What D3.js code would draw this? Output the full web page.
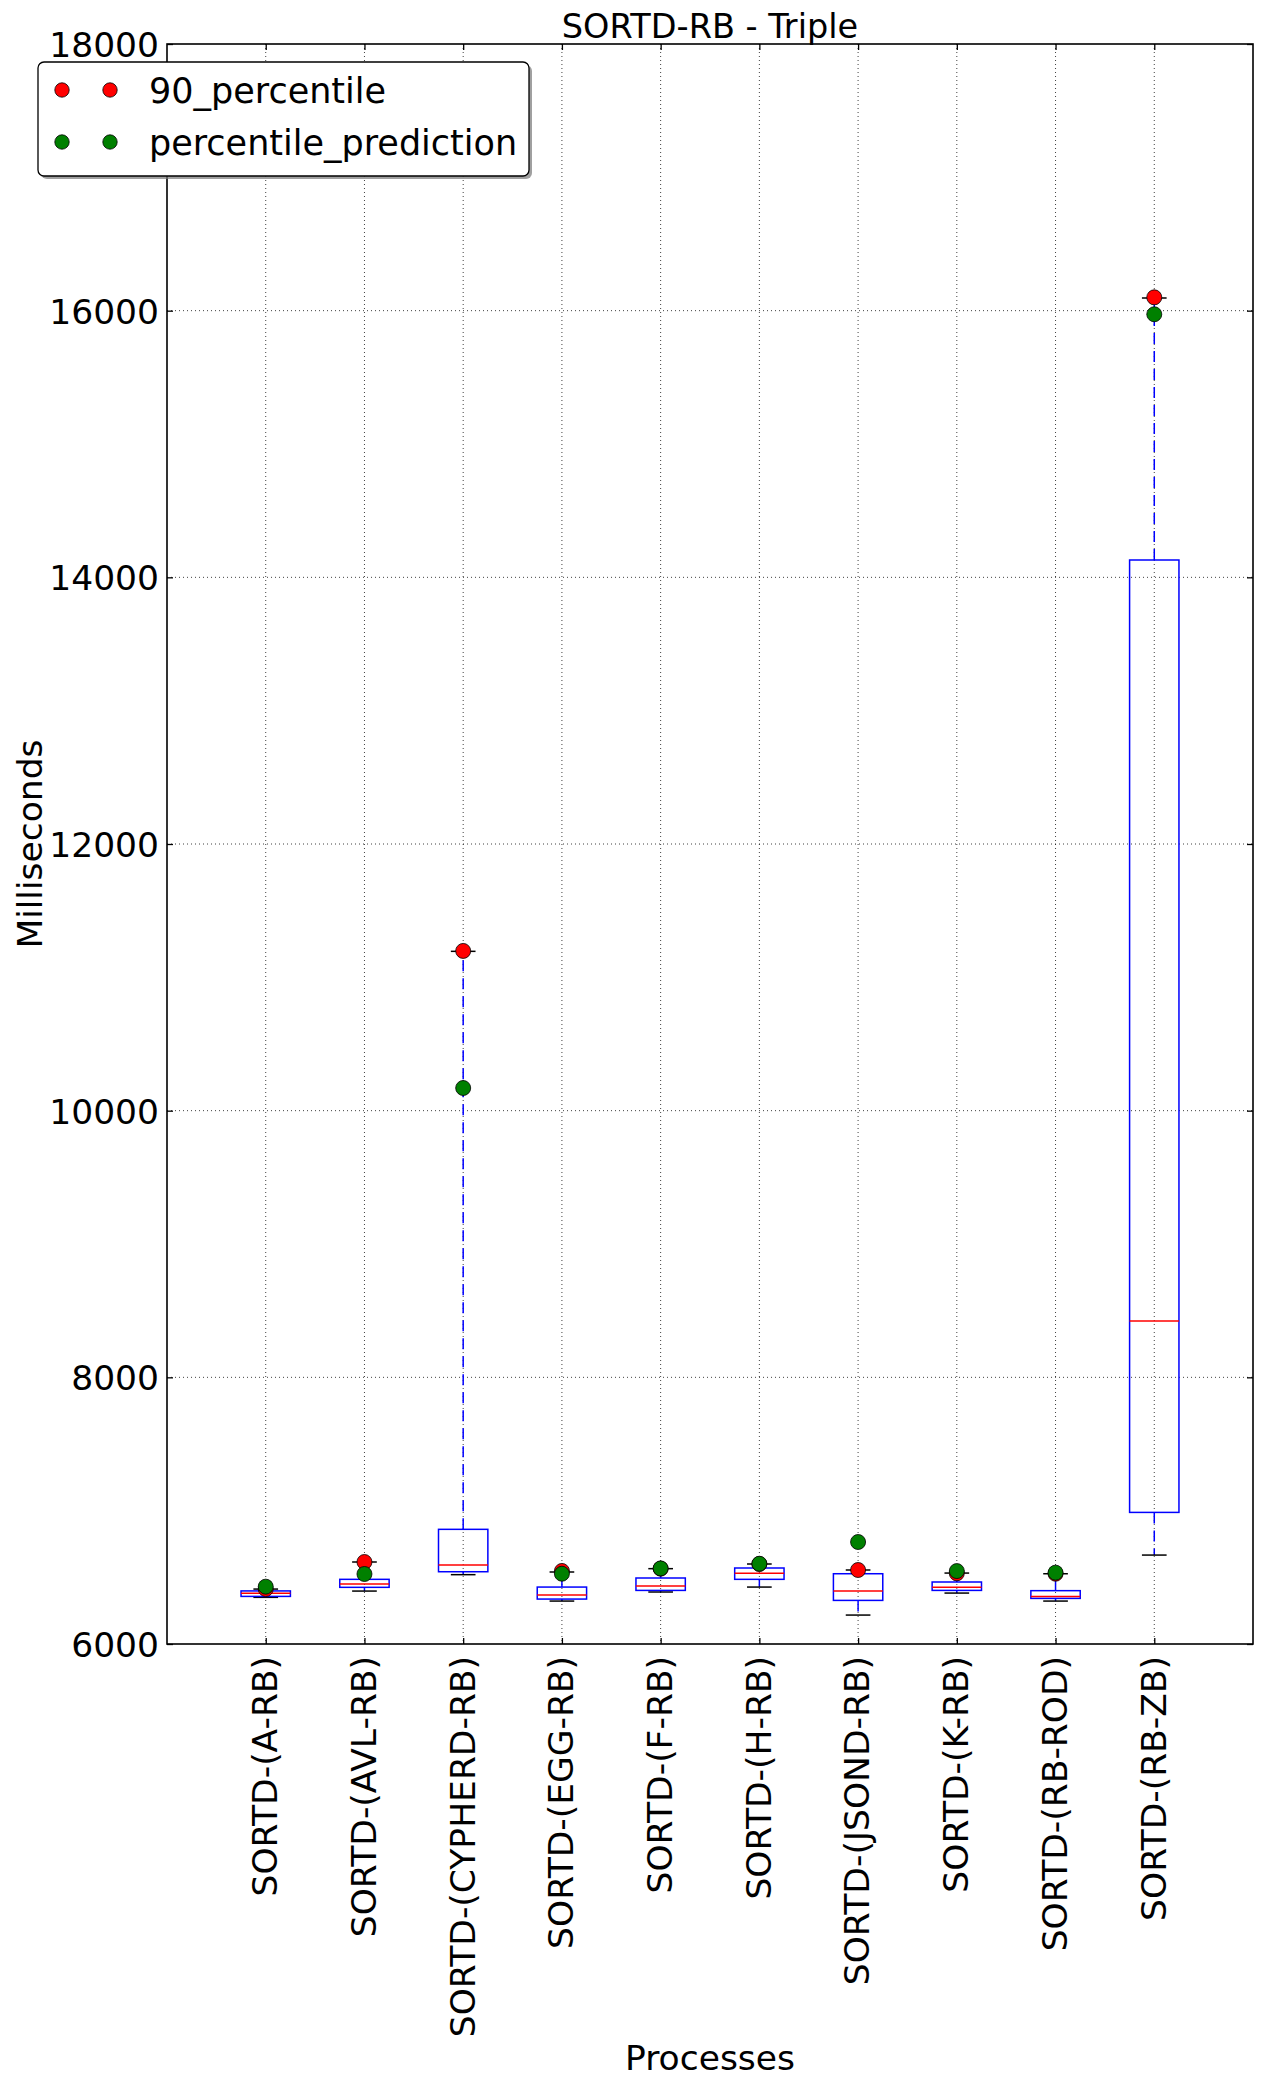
<!DOCTYPE html>
<html>
<head>
<meta charset="utf-8">
<script src="https://cdn.jsdelivr.net/npm/d3@7"></script>
<style>
  body { margin: 0; background: #fff; }
  text { font-family: "DejaVu Sans", sans-serif; fill: #000; }
</style>
</head>
<body>
<div id="chart"></div>
<script>
// data
const categories = ['SORTD-(A-RB)', 'SORTD-(AVL-RB)', 'SORTD-(CYPHERD-RB)', 'SORTD-(EGG-RB)',
  'SORTD-(F-RB)', 'SORTD-(H-RB)', 'SORTD-(JSOND-RB)', 'SORTD-(K-RB)', 'SORTD-(RB-ROD)', 'SORTD-(RB-ZB)'];
const whiskerLow  = [6350, 6397, 6520, 6322, 6390, 6427, 6217, 6382, 6322, 6667];
const q1          = [6357, 6425, 6542, 6337, 6402, 6485, 6327, 6402, 6342, 6987];
const medians     = [6380, 6450, 6592, 6367, 6435, 6530, 6397, 6425, 6357, 8422];
const q3          = [6398, 6485, 6860, 6427, 6495, 6570, 6527, 6465, 6400, 14130];
const whiskerHigh = [6412, 6615, 11195, 6540, 6565, 6600, 6555, 6532, 6527, 16095];
const p90         = [6412, 6615, 11198, 6548, 6565, 6600, 6555, 6530, 6527, 16100];
const prediction  = [6430, 6525, 10170, 6527, 6567, 6602, 6765, 6547, 6535, 15973];
const yTicks = [6000, 8000, 10000, 12000, 14000, 16000, 18000];
const legendLabels = ['90_percentile', 'percentile_prediction'];

// layout
const fullWidth = 1261, fullHeight = 2087;
const margin = { top: 44, right: 8, bottom: 443, left: 167 };
const width = fullWidth - margin.left - margin.right;
const height = fullHeight - margin.top - margin.bottom;
const FS = 34.5;

const svg = d3.select('#chart').append('svg')
  .attr('width', fullWidth)
  .attr('height', fullHeight);
svg.append('rect').attr('width', fullWidth).attr('height', fullHeight).attr('fill', '#fff');

const g = svg.append('g').attr('transform', `translate(${margin.left},${margin.top})`);

const rows = categories.map((c, i) => ({
  name: c, pos: i + 1, lo: whiskerLow[i], q1: q1[i], med: medians[i], q3: q3[i],
  hi: whiskerHigh[i], p90: p90[i], pred: prediction[i]
}));

const x = d3.scaleLinear().domain([0, categories.length + 1]).range([0, width]);
const y = d3.scaleLinear().domain([6000, 18000]).range([height, 0]);
const step = x(1) - x(0);
const boxW = step * 0.5;
const capW = boxW * 0.5;

// grid
const grid = g.append('g').attr('class', 'grid')
  .attr('stroke', '#000').attr('stroke-opacity', 0.75)
  .attr('stroke-width', 1).attr('stroke-dasharray', '1,3');
grid.selectAll('.gx').data(rows).enter().append('line')
  .attr('x1', d => x(d.pos)).attr('x2', d => x(d.pos))
  .attr('y1', 0).attr('y2', height);
grid.selectAll('.gy').data(yTicks.slice(1, -1)).enter().append('line')
  .attr('x1', 0).attr('x2', width)
  .attr('y1', d => y(d)).attr('y2', d => y(d));

// boxes
const boxes = g.selectAll('.box').data(rows).enter().append('g').attr('class', 'box');

// whiskers
boxes.append('line')
  .attr('x1', d => x(d.pos)).attr('x2', d => x(d.pos))
  .attr('y1', d => y(d.q3)).attr('y2', d => y(d.hi))
  .attr('stroke', '#0000ff').attr('stroke-width', 1.5).attr('stroke-dasharray', '11,7');
boxes.append('line')
  .attr('x1', d => x(d.pos)).attr('x2', d => x(d.pos))
  .attr('y1', d => y(d.q1)).attr('y2', d => y(d.lo))
  .attr('stroke', '#0000ff').attr('stroke-width', 1.5).attr('stroke-dasharray', '11,7');

// caps
['lo', 'hi'].forEach(k => {
  boxes.append('line')
    .attr('x1', d => x(d.pos) - capW / 2).attr('x2', d => x(d.pos) + capW / 2)
    .attr('y1', d => y(d[k])).attr('y2', d => y(d[k]))
    .attr('stroke', '#000').attr('stroke-width', 1.5);
});

boxes.append('rect')
  .attr('x', d => x(d.pos) - boxW / 2)
  .attr('y', d => y(d.q3))
  .attr('width', boxW)
  .attr('height', d => y(d.q1) - y(d.q3))
  .attr('fill', 'none').attr('stroke', '#0000ff').attr('stroke-width', 1.5);

boxes.append('line')
  .attr('x1', d => x(d.pos) - boxW / 2).attr('x2', d => x(d.pos) + boxW / 2)
  .attr('y1', d => y(d.med)).attr('y2', d => y(d.med))
  .attr('stroke', '#ff0000').attr('stroke-width', 1.5);

// points
g.selectAll('.p90').data(rows).enter().append('circle')
  .attr('cx', d => x(d.pos)).attr('cy', d => y(d.p90)).attr('r', 7.5)
  .attr('fill', '#ff0000').attr('stroke', '#000').attr('stroke-width', 0.8);
g.selectAll('.pred').data(rows).enter().append('circle')
  .attr('cx', d => x(d.pos)).attr('cy', d => y(d.pred)).attr('r', 7.5)
  .attr('fill', '#008000').attr('stroke', '#000').attr('stroke-width', 0.8);

// axes, ticks inward on all four sides
g.append('rect').attr('width', width).attr('height', height)
  .attr('fill', 'none').attr('stroke', '#000').attr('stroke-width', 1.6);

const yAxisL = g.append('g').call(d3.axisLeft(y).tickValues(yTicks).tickFormat(d3.format('d'))
  .tickSizeInner(-6).tickSizeOuter(0).tickPadding(8));
const yAxisR = g.append('g').attr('transform', `translate(${width},0)`)
  .call(d3.axisRight(y).tickValues(yTicks).tickSizeInner(-6).tickSizeOuter(0).tickFormat(''));
const xAxisB = g.append('g').attr('transform', `translate(0,${height})`)
  .call(d3.axisBottom(x).tickValues(rows.map(d => d.pos)).tickSizeInner(-6).tickSizeOuter(0).tickFormat(''));
const xAxisT = g.append('g')
  .call(d3.axisTop(x).tickValues(rows.map(d => d.pos)).tickSizeInner(-6).tickSizeOuter(0).tickFormat(''));

[yAxisL, yAxisR, xAxisB, xAxisT].forEach(a => {
  a.select('.domain').remove();
  a.selectAll('.tick line').attr('stroke', '#000').attr('stroke-width', 1.3);
});
yAxisL.selectAll('.tick text')
  .style('font-family', '"DejaVu Sans", sans-serif')
  .style('font-size', FS + 'px')
  .attr('dy', '0.36em');

// rotated category labels
g.selectAll('.xlab').data(rows).enter().append('text')
  .attr('transform', d => `translate(${x(d.pos)},${height + 12}) rotate(-90)`)
  .attr('text-anchor', 'end')
  .attr('dy', '0.33em')
  .style('font-size', FS + 'px')
  .text(d => d.name);

// title and axis labels
g.append('text')
  .attr('x', width / 2).attr('y', -6)
  .attr('text-anchor', 'middle')
  .style('font-size', '33.5px')
  .text('SORTD-RB - Triple');

svg.append('text')
  .attr('x', margin.left + width / 2).attr('y', 2070)
  .attr('text-anchor', 'middle')
  .style('font-size', FS + 'px')
  .text('Processes');

svg.append('text')
  .attr('transform', `translate(42,${margin.top + height / 2}) rotate(-90)`)
  .attr('text-anchor', 'middle')
  .style('font-size', FS + 'px')
  .text('Milliseconds');

// legend
const legend = svg.append('g').attr('transform', 'translate(38,62)');
const lw = 491, lh = 114;
legend.append('rect')
  .attr('x', 3).attr('y', 3).attr('width', lw).attr('height', lh).attr('rx', 6)
  .attr('fill', '#777').attr('fill-opacity', 0.7);
legend.append('rect')
  .attr('width', lw).attr('height', lh).attr('rx', 6)
  .attr('fill', '#fff').attr('stroke', '#000').attr('stroke-width', 1.3);
const legendColors = ['#ff0000', '#008000'];
legendLabels.forEach((lab, i) => {
  const cy = 28 + i * 52;
  [24, 72].forEach(cx => {
    legend.append('circle').attr('cx', cx).attr('cy', cy).attr('r', 7.2)
      .attr('fill', legendColors[i]).attr('stroke', '#000').attr('stroke-width', 0.8);
  });
  legend.append('text')
    .attr('x', 111).attr('y', cy).attr('dy', '0.37em')
    .style('font-size', '35px')
    .text(lab);
});
</script>
</body>
</html>
